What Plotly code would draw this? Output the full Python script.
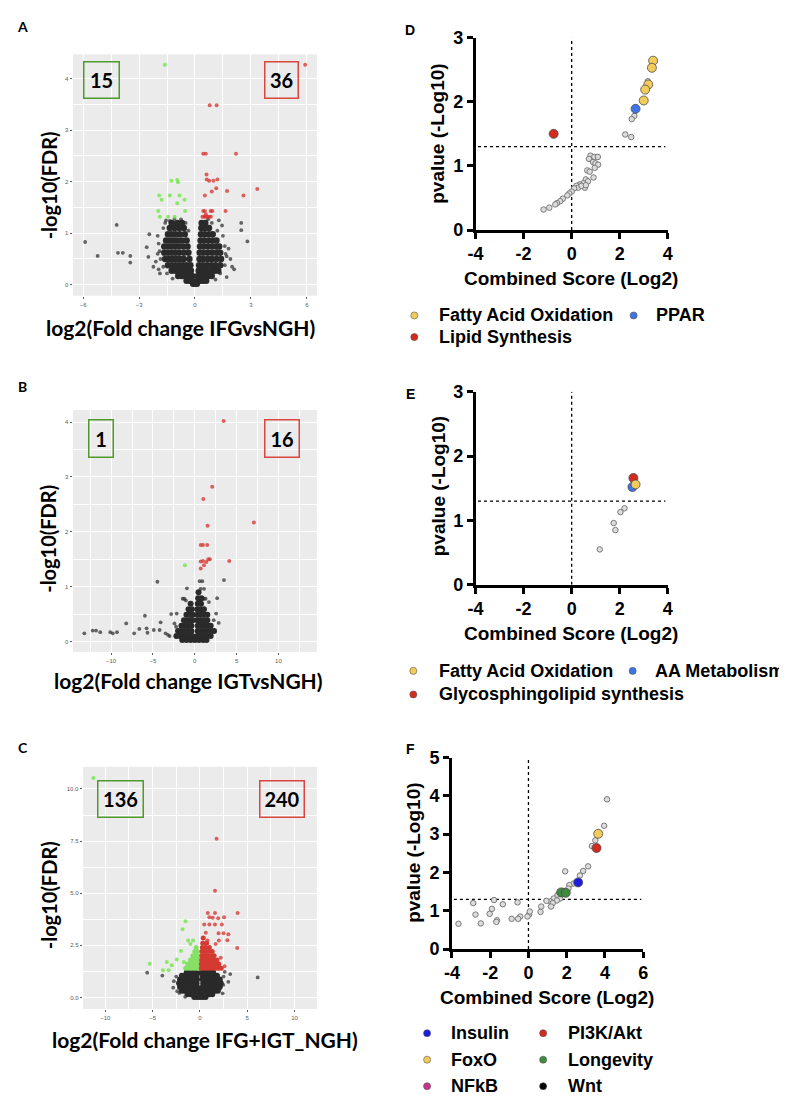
import plotly.graph_objects as go

W, H = 787, 1100


def fx(p):
    return p / W


def fy(p):
    return 1 - p / H


# ---------------------------------------------------------------- DATA
SIG = 1.3  # -log10(0.05)

# Panel A  (IFG vs NGH)
A_core_rows = [
    (0.02, [-0.1, 0.0, 0.1]),
    (0.08, [-0.45, -0.3, -0.15, 0.15, 0.3, 0.45, 0.6]),
    (0.17, [-0.9, -0.7, -0.5, -0.3, -0.15, 0.15, 0.3, 0.5, 0.7, 0.9]),
    (0.27, [-1.25, -1.05, -0.85, -0.65, -0.45, -0.22, 0.2, 0.4, 0.6, 0.85, 1.05, 1.25]),
    (0.38, [-1.45, -1.25, -1.05, -0.85, -0.65, -0.45, -0.25, 0.22, 0.42, 0.65, 0.88, 1.1, 1.35]),
    (0.5, [-1.6, -1.4, -1.2, -1.0, -0.8, -0.6, -0.3, 0.24, 0.45, 0.68, 0.9, 1.15, 1.4]),
    (0.62, [-1.65, -1.45, -1.25, -1.05, -0.85, -0.6, -0.35, 0.25, 0.45, 0.68, 0.92, 1.15, 1.35]),
    (0.74, [-1.65, -1.45, -1.25, -1.05, -0.85, -0.62, -0.4, 0.27, 0.47, 0.7, 0.92, 1.15, 1.3]),
    (0.86, [-1.55, -1.35, -1.15, -0.95, -0.72, -0.45, 0.3, 0.5, 0.72, 0.95, 1.15]),
    (0.98, [-1.45, -1.25, -1.05, -0.82, -0.55, 0.32, 0.52, 0.75, 0.95]),
    (1.1, [-1.35, -1.1, -0.85, -0.6, 0.34, 0.55, 0.75]),
    (1.2, [-1.25, -0.95, -0.7, 0.36, 0.55]),
]
A_grey_x = [-5.89, -5.22, -4.2, -4.13, -3.87, -3.47, -3.47, -2.45, -2.59, -2.5, -2.23, -1.88, 1.99, 2.48,
            2.48, 2.81, 1.64, 1.28, -1.35, -2.0, -2.1, -1.95, 1.8, 1.9, 2.1, 1.7, -1.6, -0.75,
            -2.0, -1.95, -1.9, -1.85, -1.7, -1.5, -1.2, -1.7, -1.55, -1.1, -0.5, -0.35,
            1.5, 1.6, 1.7, 1.6, 1.35, 1.1, 1.2, 0.9, 0.7, 1.45]
A_grey_y = [0.83, 0.56, 1.16, 0.62, 0.62, 0.56, 0.43, 0.98, 0.73, 0.54, 0.35, 0.22, 0.35, 1.2,
            1.06, 0.84, 0.6, 1.25, 1.24, 0.6, 0.45, 0.3, 0.7, 0.5, 0.3, 0.15, 1.2, 1.27,
            0.95, 0.8, 0.65, 0.5, 0.35, 0.22, 0.12, 1.1, 1.25, 1.28, 1.2, 1.05,
            0.95, 0.75, 0.55, 0.38, 0.22, 0.1, 1.05, 1.2, 1.27, 1.15]
A_down_x = [-1.62, -1.27, -0.95, -0.91, -1.92, -1.79, -1.35, -0.83, -0.56, -0.95, -1.97, -1.88, -1.44, -1.09, -0.53]
A_down_y = [4.27, 2.02, 2.03, 1.99, 1.73, 1.65, 1.73, 1.73, 1.65, 1.58, 1.43, 1.32, 1.32, 1.32, 1.43]
A_up_x = [5.91, 0.79, 1.16, 0.44, 0.58, 2.2, 0.62, 0.63, 0.76, 0.99, 1.2, 1.14, 0.9, 1.72, 3.34, 2.6, 0.53,
          0.44, 0.53, 0.84, 0.93, 1.64, 0.4, 0.49, 0.58, 0.67, 0.76, 0.85, 0.58]
A_up_y = [4.27, 3.48, 3.48, 2.54, 2.54, 2.54, 2.14, 2.04, 2.02, 2.02, 2.04, 1.87, 1.81, 1.82, 1.86, 1.73, 1.73,
          1.43, 1.43, 1.43, 1.43, 1.43, 1.32, 1.32, 1.32, 1.32, 1.32, 1.32, 1.37]
A_counts = (15, 36)

# Panel B  (IGT vs NGH)
B_core_rows = [
    (0.03, [-1.5, -1.0, -0.5, 0.0, 0.5, 1.0, 1.4]),
    (0.1, [-2.2, -1.8, -1.4, -1.0, -0.6, -0.3, 0.3, 0.7, 1.1, 1.5, 1.9]),
    (0.19, [-2.0, -1.6, -1.2, -0.8, -0.4, 0.35, 0.75, 1.15, 1.55, 1.95, 2.3]),
    (0.29, [-1.6, -1.2, -0.8, -0.4, 0.35, 0.75, 1.15, 1.55, 1.9]),
    (0.39, [-1.3, -0.9, -0.5, -0.25, 0.3, 0.7, 1.1, 1.5]),
    (0.49, [-1.0, -0.6, -0.25, 0.3, 0.7, 1.1, 1.5]),
    (0.59, [-0.75, -0.35, 0.3, 0.7, 1.1]),
    (0.69, [-0.5, 0.35, 0.75]),
    (0.79, [0.4, 0.8]),
    (0.9, [0.45]),
]
B_grey_x = [-4.47, 3.49, -0.94, -5.96, -8.2, -13.2, -12.2, -11.8, -11.3, -10.1, -9.8, -9.3, -7.25, -6.63,
            -5.76, -5.65, -4.9, -4.08, -4.2, -3.49, -3.2, -3.0, -2.82, -2.16, -1.45, -1.25, -1.06, 2.67,
            2.55, 2.86, 2.27, 0.59, 0.9, 0.7, 1.1, 0.5, 0.8, 1.1, 1.3, 1.69, -2.43, -2.24]
B_grey_y = [1.09, 1.12, 0.97, 0.47, 0.33, 0.15, 0.2, 0.2, 0.17, 0.17, 0.15, 0.17, 0.15, 0.23,
            0.24, 0.16, 0.21, 0.35, 0.21, 0.15, 0.12, 0.1, 0.5, 0.51, 0.78, 0.78, 0.75, 0.79,
            0.51, 0.34, 0.39, 1.1, 1.1, 0.96, 0.96, 0.78, 0.78, 0.78, 0.78, 0.72, 0.33, 0.27]
B_down_x = [-1.18]
B_down_y = [1.39]
B_up_x = [3.45, 2.08, 1.02, 7.06, 1.53, 0.71, 0.98, 1.49, 0.71, 0.98, 1.61, 1.8, 1.37, 1.1, 0.71, 4.12]
B_up_y = [4.02, 2.82, 2.6, 2.17, 2.11, 1.76, 1.76, 1.76, 1.46, 1.47, 1.5, 1.5, 1.45, 1.39, 1.33, 1.47]
B_counts = (1, 16)

# Panel C  (IFG+IGT vs NGH)
C_core_rows = [
    (0.02, [-0.6, -0.3, 0.0, 0.3, 0.6]),
    (0.15, [-1.3, -1.0, -0.7, -0.4, -0.15, 0.15, 0.4, 0.7, 1.0, 1.3]),
    (0.32, [-1.9, -1.6, -1.3, -1.0, -0.7, -0.4, -0.15, 0.15, 0.4, 0.7, 1.0, 1.3, 1.6, 1.9]),
    (0.5, [-2.1, -1.8, -1.5, -1.2, -0.9, -0.6, -0.3, 0.3, 0.6, 0.9, 1.2, 1.5, 1.8, 2.1]),
    (0.68, [-2.2, -1.9, -1.6, -1.3, -1.0, -0.7, -0.35, 0.35, 0.7, 1.0, 1.3, 1.6, 1.9, 2.2]),
    (0.86, [-2.1, -1.8, -1.5, -1.2, -0.9, -0.6, -0.3, 0.3, 0.6, 0.9, 1.2, 1.5, 1.8, 2.1]),
    (1.04, [-1.9, -1.6, -1.3, -1.0, -0.7, -0.35, 0.3, 0.6, 0.9, 1.2, 1.5, 1.8]),
    (1.2, [-1.4, -1.1, -0.8, -0.5, -0.2, 0.2, 0.5, 0.8, 1.1, 1.4]),
]
C_down_rows = [
    (1.4, [-1.5, -1.2, -0.9, -0.6, -0.3, -0.1]),
    (1.6, [-1.3, -1.0, -0.7, -0.4, -0.15]),
    (1.8, [-1.0, -0.7, -0.4, -0.15]),
    (2.0, [-0.75, -0.45, -0.2]),
    (2.2, [-0.55, -0.25]),
    (2.4, [-0.4]),
]
C_up_rows = [
    (1.4, [0.15, 0.45, 0.75, 1.05, 1.35, 1.65, 1.95, 2.25]),
    (1.6, [0.15, 0.45, 0.75, 1.05, 1.35, 1.65, 2.0]),
    (1.8, [0.18, 0.5, 0.8, 1.1, 1.45, 1.8]),
    (2.0, [0.2, 0.5, 0.8, 1.15, 1.5]),
    (2.2, [0.22, 0.55, 0.9, 1.3]),
    (2.4, [0.25, 0.6, 1.0]),
    (2.6, [0.3, 0.7]),
    (2.85, [0.35]),
]
C_grey_x = [-5.57, 6.1, 2.62, 3.2, -3.97, -2.82, -2.75, -2.17, -1.56, 3.0, 2.46, 2.4, -2.4, 2.5, -2.5]
C_grey_y = [1.19, 0.96, 1.23, 1.12, 1.05, 0.47, 0.78, 0.22, 0.03, 0.75, 0.6, 0.2, 0.3, 1.0, 1.0]
C_down_x = [-11.25, -1.52, -1.83, -1.24, -0.73, -1.0, -2.0, -5.3, -3.5, -2.97, -3.9, -3.3, -2.45, -1.7]
C_down_y = [10.53, 3.66, 3.27, 2.73, 2.73, 2.57, 2.23, 1.62, 1.7, 1.54, 1.31, 1.31, 1.82, 1.7]
C_up_x = [1.76, 1.59, 0.83, 1.59, 3.98, 1.0, 1.35, 1.93, 2.55, 0.45, 1.0, 1.59, 2.32, 1.97, 2.49, 3.0,
          2.9, 0.62, 0.8, 2.0, 1.65, 3.94, 2.6, 2.2]
C_up_y = [7.61, 5.12, 4.05, 4.05, 4.05, 3.85, 3.82, 3.8, 3.85, 3.5, 3.5, 3.5, 3.5, 3.08, 3.08, 3.03,
          2.75, 3.1, 2.73, 2.73, 2.57, 2.37, 1.5, 1.9]
C_counts = (136, 240)

# Panel D  (enrichment IFG)
D_grey_x = [3.17, 2.61, 2.5, 2.23, 2.48, 0.78, 0.94, 1.09, 0.72, 0.89, 0.99, 1.1, 0.96, 0.65, 0.75, 0.91,
            0.59, 0.68, 0.48, 0.34, 0.2, 0.27, 0.1, 0.0, -0.1, -0.18, -0.37, -0.48, -0.61, -0.68, -0.93,
            -1.17, 0.55, 0.41, 0.59]
D_grey_y = [2.32, 1.78, 1.73, 1.49, 1.45, 1.16, 1.14, 1.14, 1.11, 1.06, 1.04, 1.02, 0.97, 0.93, 0.91, 0.82,
            0.79, 0.76, 0.73, 0.71, 0.69, 0.66, 0.65, 0.6, 0.57, 0.54, 0.49, 0.45, 0.42, 0.4, 0.35,
            0.32, 0.66, 0.69, 0.70]
D_fao_x = [3.39, 3.34, 3.19, 3.06, 3.0]
D_fao_y = [2.64, 2.53, 2.27, 2.19, 2.02]
D_ppar_x = [2.66]
D_ppar_y = [1.89]
D_lipid_x = [-0.75]
D_lipid_y = [1.50]

# Panel E  (enrichment IGT)
E_grey_x = [2.2, 2.03, 1.75, 1.82, 1.17]
E_grey_y = [1.19, 1.13, 0.96, 0.85, 0.55]
E_aa_x, E_aa_y = [2.53], [1.52]
E_gsl_x, E_gsl_y = [2.57], [1.66]
E_fao_x, E_fao_y = [2.66], [1.56]

# Panel F  (enrichment IFG+IGT)
F_grey_x = [4.11, 3.96, 3.5, 3.32, 3.12, 2.86, 2.69, 1.92, 2.35, 2.14, 2.09, 1.83, 1.52, 1.32, 1.15, 0.94,
            1.66, 1.49, 1.27, 1.18, 0.67, 0.63, 0.03, -0.05, -0.43, -0.54, -0.88, -0.57, -1.34, -1.8,
            -1.91, -2.03, -1.65, -1.68, -2.77, -2.89, -2.49, -3.66, 0.07]
F_grey_y = [3.91, 3.22, 2.84, 2.69, 2.16, 2.04, 1.92, 2.03, 1.71, 1.67, 1.58, 1.52, 1.41, 1.32, 1.24, 1.26,
            1.32, 1.27, 1.2, 1.11, 1.11, 0.97, 0.9, 0.85, 0.85, 0.79, 0.79, 1.22, 1.17, 1.28,
            1.05, 0.92, 0.75, 0.71, 0.9, 1.2, 0.67, 0.66, 0.98]
F_ins_x, F_ins_y = [2.6], [1.74]
F_pi3k_x, F_pi3k_y = [3.56], [2.64]
F_foxo_x, F_foxo_y = [3.65], [3.01]
F_long_x, F_long_y = [1.71, 1.95], [1.48, 1.47]

# colours
YEL, BLU, RED = '#F2CB5A', '#3F74E6', '#D42A1E'
F_BLU, F_GRN, F_MAG, F_BLK = '#1C1CE0', '#3E8A3E', '#C8338F', '#000000'

D_legend = [[('Fatty Acid Oxidation', YEL), ('PPAR', BLU)], [('Lipid Synthesis', RED)]]
E_legend = [[('Fatty Acid Oxidation', YEL), ('AA Metabolism', BLU)], [('Glycosphingolipid synthesis', RED)]]
F_legend = [[('Insulin', F_BLU), ('PI3K/Akt', RED)], [('FoxO', YEL), ('Longevity', F_GRN)],
            [('NFkB', F_MAG), ('Wnt', F_BLK)]]

# ---------------------------------------------------------------- FIGURE
fig = go.Figure()
shapes, annotations = [], []
layout = dict(width=W, height=H, margin=dict(l=0, r=0, t=0, b=0), paper_bgcolor='white',
              plot_bgcolor='white', showlegend=False)

VFONT = 'Lato'
GFONT = 'Liberation Sans'


def flat(rows):
    xs, ys = [], []
    for yv, xv in rows:
        xs += xv
        ys += [yv] * len(xv)
    return xs, ys


def vol_axes(i, xdom, ydom, xr, yr, xd, yd, yfmt=None):
    sfx = '' if i == 1 else str(i)
    common = dict(showgrid=True, gridcolor='white', gridwidth=1.1, zeroline=False, showline=False,
                  ticks='outside', ticklen=2.5, tickwidth=0.7, tickcolor='#5a5a5a', tickmode='linear', tick0=0,
                  tickfont=dict(family='Liberation Sans', size=6, color='#5a5a5a'))
    layout['xaxis' + sfx] = dict(domain=[fx(xdom[0]), fx(xdom[1])], range=list(xr), anchor='y' + sfx, dtick=xd,
                                 minor=dict(dtick=xd / 2, tick0=0, showgrid=True, gridcolor='white', gridwidth=0.5),
                                 **common)
    ya = dict(domain=[fy(ydom[1]), fy(ydom[0])], range=list(yr), anchor='x' + sfx, dtick=yd,
              minor=dict(dtick=yd / 2, tick0=0, showgrid=True, gridcolor='white', gridwidth=0.5), **common)
    if yfmt:
        ya['tickformat'] = yfmt
    layout['yaxis' + sfx] = ya
    shapes.append(dict(type='rect', xref='x%s domain' % sfx, yref='y%s domain' % sfx, x0=0, x1=1, y0=0, y1=1,
                       fillcolor='#EBEBEB', line=dict(width=0), layer='below'))


def gp_axes(i, xdom, ydom, xr, yr, xt, yt):
    sfx = str(i)
    common = dict(showgrid=False, zeroline=False, showline=True, linecolor='black', linewidth=2.5,
                  ticks='outside', ticklen=6, tickwidth=2.5, tickcolor='black', tickmode='array',
                  tickfont=dict(family=GFONT, size=18, color='black', weight='bold'))
    layout['xaxis' + sfx] = dict(domain=[fx(xdom[0]), fx(xdom[1])], range=list(xr), anchor='y' + sfx,
                                 tickvals=xt, ticktext=[str(v) for v in xt], **common)
    layout['yaxis' + sfx] = dict(domain=[fy(ydom[1]), fy(ydom[0])], range=list(yr), anchor='x' + sfx,
                                 tickvals=yt, ticktext=[str(v) for v in yt], **common)


def sc(i, x, y, size, color, line=None, opacity=1.0):
    sfx = '' if i == 1 else str(i)
    mk = dict(size=size, color=color, line=line or dict(width=0))
    fig.add_trace(go.Scatter(x=x, y=y, mode='markers', marker=mk, opacity=opacity, cliponaxis=False,
                             xaxis='x' + sfx, yaxis='y' + sfx, hoverinfo='skip'))


CORE = '#2a2a2a'
OUT = 'rgba(45,45,45,0.72)'
GRN = 'rgba(120,232,80,0.85)'
RDD = 'rgba(214,50,45,0.75)'
GRN_S = '#86E066'
RDD_S = '#D43A32'

# ---- volcano panels
vol_axes(1, (58, 306), (37, 283), (-6.54, 6.54), (-0.215, 4.47), 3, 1)
vol_axes(2, (58, 306), (399.3, 645.7), (-14.55, 14.6), (-0.19, 4.22), 5, 1)
vol_axes(3, (68.3, 306), (762.7, 1009.3), (-12.33, 12.36), (-0.55, 11.06), 5, 2.5, '.1f')

for i, rows, gx, gy, dx, dy, ux, uy, cs in [
    (1, A_core_rows, A_grey_x, A_grey_y, A_down_x, A_down_y, A_up_x, A_up_y, 6.5),
    (2, B_core_rows, B_grey_x, B_grey_y, B_down_x, B_down_y, B_up_x, B_up_y, 6),
    (3, C_core_rows, C_grey_x, C_grey_y, C_down_x, C_down_y, C_up_x, C_up_y, 6),
]:
    cx, cy = flat(rows)
    sc(i, gx, gy, 3.8, OUT)
    sc(i, cx, cy, cs, CORE)
    sc(i, dx, dy, 4, GRN)
    sc(i, ux, uy, 4, RDD)

gdx, gdy = flat(C_down_rows)
udx, udy = flat(C_up_rows)
sc(3, gdx, gdy, 5, GRN_S)
sc(3, udx, udy, 5, RDD_S)

# count boxes
for (cxp, cyp, w, h, n, col) in [
    (86.5, 63, 37, 38, A_counts[0], '#4E9A2E'), (269.5, 63, 35, 38, A_counts[1], '#D9473F'),
    (86, 428.5, 26, 39, B_counts[0], '#4E9A2E'), (270, 428.5, 36, 39, B_counts[1], '#D9473F'),
    (106.5, 795, 47, 38, C_counts[0], '#4E9A2E'), (270, 795, 46, 38, C_counts[1], '#D9473F'),
]:
    annotations.append(dict(xref='paper', yref='paper', x=fx(cxp), y=fy(cyp), xanchor='center',
                            yanchor='middle', showarrow=False, text='<b>%d</b>' % n,
                            font=dict(family=VFONT, size=20, color='black'), width=w - 4, height=h - 4,
                            borderpad=0.5, bordercolor=col, borderwidth=1.5, align='center', valign='middle'))

# volcano titles
for (tx, ty, txt, ang, fs) in [
    (167, 315, 'log2(Fold change IFGvsNGH)', 0, 21), (33, 170, '-log10(FDR)', -90, 20),
    (175, 675, 'log2(Fold change IGTvsNGH)', 0, 21), (33, 530, '-log10(FDR)', -90, 20),
    (192, 1040, 'log2(Fold change IFG+IGT_NGH)', 0, 21), (33, 893, '-log10(FDR)', -90, 20),
]:
    annotations.append(dict(xref='paper', yref='paper', x=fx(tx), y=fy(ty), xanchor='center', yanchor='middle',
                            showarrow=False, text='<b>%s</b>' % txt, textangle=ang,
                            font=dict(family=VFONT, size=fs, color='black')))

# ---- GraphPad panels
gp_axes(4, (467.3, 662.7), (20, 216), (-4, 4), (0, 3), [-4, -2, 0, 2, 4], [0, 1, 2, 3])
gp_axes(5, (467.3, 662.7), (380.7, 577.3), (-4, 4), (0, 3), [-4, -2, 0, 2, 4], [0, 1, 2, 3])
gp_axes(6, (443.3, 637.7), (753.3, 948.3), (-4, 6), (0, 5), [-4, -2, 0, 2, 4, 6], [0, 1, 2, 3, 4, 5])

GREYMK = dict(size=5.5, color='#DCDCDC', line=dict(color='#7A7A7A', width=1))
BIGLINE = dict(color='#4A4A4A', width=0.8)


def refl(i, xr, ymax):
    sfx = str(i)
    dot = dict(color='black', width=1.3, dash='dot')
    fig.add_trace(go.Scatter(x=[0, 0], y=[0, ymax], mode='lines', line=dot, xaxis='x' + sfx, yaxis='y' + sfx,
                             hoverinfo='skip'))
    fig.add_trace(go.Scatter(x=list(xr), y=[SIG, SIG], mode='lines', line=dot, xaxis='x' + sfx,
                             yaxis='y' + sfx, hoverinfo='skip'))


refl(4, (-3.9, 3.9), 3)
refl(5, (-3.9, 3.9), 3)
refl(6, (-3.9, 5.9), 5)

sc(4, D_grey_x, D_grey_y, GREYMK['size'], GREYMK['color'], GREYMK['line'])
sc(4, D_lipid_x, D_lipid_y, 9, RED, BIGLINE)
sc(4, D_ppar_x, D_ppar_y, 9, BLU, BIGLINE)
sc(4, D_fao_x, D_fao_y, 9, YEL, BIGLINE)

sc(5, E_grey_x, E_grey_y, GREYMK['size'], GREYMK['color'], GREYMK['line'])
sc(5, E_aa_x, E_aa_y, 9, BLU, BIGLINE)
sc(5, E_gsl_x, E_gsl_y, 9, RED, BIGLINE)
sc(5, E_fao_x, E_fao_y, 9, YEL, BIGLINE)

sc(6, F_grey_x, F_grey_y, GREYMK['size'], GREYMK['color'], GREYMK['line'])
sc(6, F_long_x, F_long_y, 9, F_GRN, BIGLINE)
sc(6, F_ins_x, F_ins_y, 9, F_BLU, BIGLINE)
sc(6, F_pi3k_x, F_pi3k_y, 9, RED, BIGLINE)
sc(6, F_foxo_x, F_foxo_y, 9, YEL, BIGLINE)

# GraphPad titles
for (tx, ty, txt, ang) in [
    (564, 265, 'Combined Score (Log2)', 0), (429, 118, 'pvalue (-Log10)', -90),
    (564, 627, 'Combined Score (Log2)', 0), (429, 477, 'pvalue (-Log10)', -90),
    (540, 998, 'Combined Score (Log2)', 0), (404, 850, 'pvalue (-Log10)', -90),
]:
    annotations.append(dict(xref='paper', yref='paper', x=fx(tx), y=fy(ty), xanchor='center', yanchor='middle',
                            showarrow=False, text='<b>%s</b>' % txt, textangle=ang,
                            font=dict(family=GFONT, size=19, color='black')))

# legends
for legend, rows_y, mk_x, tx_x in [
    (D_legend, [303, 325], [405, 628], [428, 649]),
    (E_legend, [665, 689], [404, 627], [428, 648]),
    (F_legend, [1034, 1061, 1088], [418, 536], [440, 559]),
]:
    for r, row in enumerate(legend):
        for c, (name, col) in enumerate(row):
            mx, my = mk_x[c], rows_y[r]
            shapes.append(dict(type='circle', xref='paper', yref='paper', x0=fx(mx - 3.6), x1=fx(mx + 3.6),
                               y0=fy(my + 3.6), y1=fy(my - 3.6), fillcolor=col,
                               line=dict(color='#555555', width=0.6)))
            annotations.append(dict(xref='paper', yref='paper', x=fx(tx_x[c]), y=fy(my), xanchor='left',
                                    yanchor='middle', showarrow=False, text='<b>%s</b>' % name,
                                    font=dict(family=GFONT, size=18, color='black')))

# panel letters
for (lx, ly, t, fam) in [(7, 9, 'A', VFONT), (7, 375, 'B', VFONT), (7, 743, 'C', VFONT),
                         (401, 12, 'D', GFONT), (401, 383, 'E', GFONT), (401, 745, 'F', GFONT)]:
    annotations.append(dict(xref='paper', yref='paper', x=fx(lx), y=fy(ly), xanchor='center', yanchor='middle',
                            showarrow=False, text='<b>%s</b>' % t, font=dict(family=fam, size=14, color='black')))

layout['shapes'] = shapes
layout['annotations'] = annotations
fig.update_layout(**layout)
fig.write_html('out.html')
